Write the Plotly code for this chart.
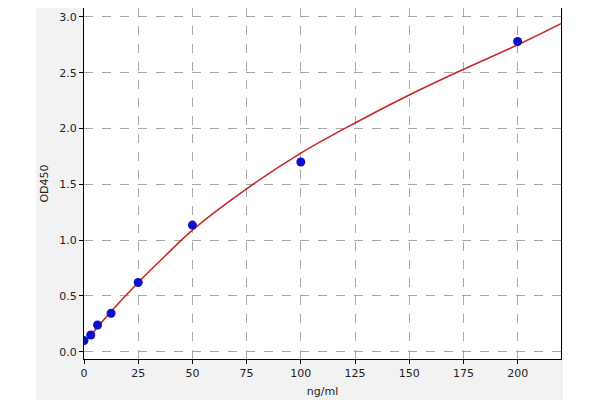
import plotly.graph_objects as go

# measured standards
conc = [0, 3.125, 6.25, 12.5, 25, 50, 100, 200]
od450 = [0.10, 0.15, 0.24, 0.345, 0.62, 1.135, 1.70, 2.78]

# fitted curve
curve_x = [0, 3.125, 6.25, 12.5, 25, 37.5, 50, 75, 100, 125, 150, 175, 200, 220]
curve_y = [0.08, 0.15, 0.22, 0.36, 0.62, 0.86, 1.09, 1.46, 1.78, 2.05, 2.30, 2.53, 2.75, 2.94]

x_ticks = [0, 25, 50, 75, 100, 125, 150, 175, 200]
y_ticks = [0.0, 0.5, 1.0, 1.5, 2.0, 2.5, 3.0]

fig = go.Figure()

fig.add_trace(
    go.Scatter(
        x=curve_x,
        y=curve_y,
        mode="lines",
        line=dict(color="#c8262a", width=1.6, shape="spline"),
        showlegend=False,
    )
)

fig.add_trace(
    go.Scatter(
        x=conc,
        y=od450,
        mode="markers",
        marker=dict(color="#1010c8", size=9),
        showlegend=False,
    )
)

axis_style = dict(
    showline=True,
    linecolor="black",
    linewidth=1.2,
    mirror=True,
    ticks="outside",
    ticklen=4,
    tickcolor="black",
    showgrid=True,
    gridcolor="#a8a8a8",
    griddash="dash",
    gridwidth=0.8,
    zeroline=False,
    tickfont=dict(size=11, color="#222222"),
)

fig.update_xaxes(
    range=[0, 220],
    tickvals=x_ticks,
    ticktext=[str(v) for v in x_ticks],
    title=dict(text="ng/ml", font=dict(size=11, color="#222222"), standoff=8),
    **axis_style,
)
fig.update_yaxes(
    range=[-0.065, 3.08],
    tickvals=y_ticks,
    ticktext=[f"{v:.1f}" for v in y_ticks],
    title=dict(text="OD450", font=dict(size=11, color="#222222"), standoff=8),
    **axis_style,
)

# the page puts the figure 8px in from the corner; sizes below allow for that
PLOT_W = 477

# white strips on either side of the grey figure background
fig.add_shape(
    type="rect", xref="paper", yref="paper",
    x0=-80 / PLOT_W, x1=-48 / PLOT_W, y0=-0.2, y1=1.1,
    fillcolor="#ffffff", line=dict(width=0), layer="above",
)
fig.add_shape(
    type="rect", xref="paper", yref="paper",
    x0=1 + 2 / PLOT_W, x1=1 + 50 / PLOT_W, y0=-0.2, y1=1.1,
    fillcolor="#ffffff", line=dict(width=0), layer="above",
)

fig.update_layout(
    width=592,
    height=392,
    margin=dict(l=76, r=39, t=0, b=41),
    paper_bgcolor="#f2f2f2",
    plot_bgcolor="#ffffff",
    font=dict(family="DejaVu Sans", size=11, color="#222222"),
)

fig.write_html("out.html")
